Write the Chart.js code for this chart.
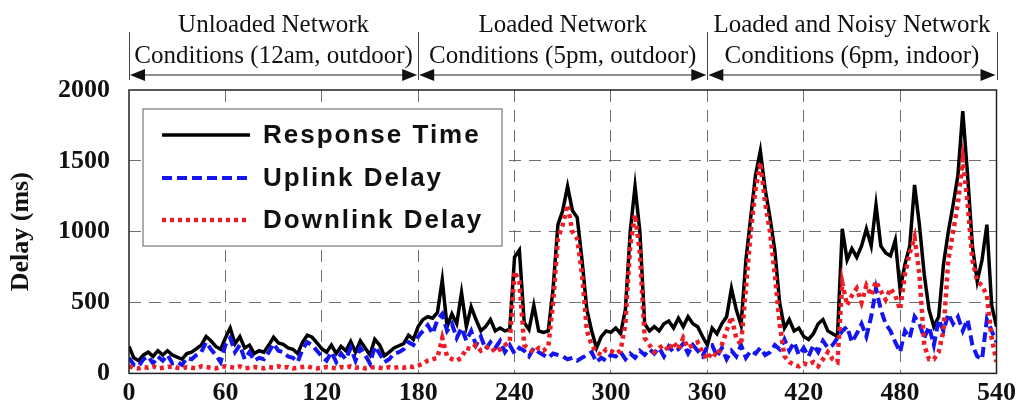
<!DOCTYPE html>
<html>
<head>
<meta charset="utf-8">
<script src="https://cdn.jsdelivr.net/npm/chart.js@4/dist/chart.umd.min.js"></script>
<style>
  body { margin: 0; background: #fff; }
  canvas { display: block; }
</style>
</head>
<body>
<canvas id="chart" width="1020" height="408"></canvas>
<script>
// one sample every 3 s, 0 .. 540 s
const sampleStep = 3;

const responseTime = [
	// 0 - 180 s
	190, 110, 90, 130, 150, 120, 160, 130, 160, 130,
	115, 100, 140, 150, 175, 200, 260, 230, 190, 170,
	250, 320, 210, 260, 180, 200, 140, 160, 150, 200,
	255, 215, 205, 180, 170, 140, 220, 270, 255, 215,
	175, 150, 200, 140, 190, 160, 225, 150, 230, 180,
	130, 240, 200, 125, 150, 180, 195, 210, 270, 240,
	330,
	// 183 - 360 s
	380, 400, 390, 430, 660, 330, 420, 350, 570, 330,
	470, 380, 300, 330, 380, 300, 320, 300, 310, 820,
	870, 360, 310, 480, 300, 290, 300, 600, 1050, 1150,
	1320, 1150, 1100, 800, 450, 300, 180, 260, 300, 290,
	320, 280, 450, 1000, 1320, 1000, 350, 300, 330, 300,
	350, 370, 320, 390, 330, 400, 350, 330, 260, 200,
	// 363 - 540 s
	320, 280, 350, 400, 600, 450, 340, 800, 1100, 1400,
	1570, 1300, 1100, 870, 500, 320, 380, 300, 320, 260,
	240, 280, 350, 380, 300, 280, 260, 1020, 800, 880,
	820, 900, 1020, 900, 1190, 900, 850, 830, 940, 590,
	770, 900, 1330, 1050, 700, 450, 330, 400, 770, 1000,
	1190, 1400, 1850, 1400, 900, 650, 800, 1050, 480, 330
];

const uplinkDelay = [
	110, 60, 50, 100, 120, 70, 120, 90, 130, 70,
	80, 60, 110, 100, 130, 150, 220, 170, 130, 80,
	200, 250, 150, 200, 100, 150, 90, 110, 100, 150,
	210, 160, 150, 120, 110, 80, 170, 220, 200, 160,
	120, 90, 150, 80, 140, 100, 180, 90, 180, 130,
	70, 190, 140, 80, 100, 140, 150, 170, 220, 200,
	260,
	300, 340, 280, 380, 420, 300, 350, 250, 320, 230,
	300, 200, 260, 170, 220, 180, 230, 150, 200, 140,
	180, 160, 120, 180, 150, 130, 110, 140, 130, 120,
	100, 110, 90, 110, 130, 150, 80, 110, 90, 130,
	120, 150, 100, 140, 110, 160, 130, 170, 140, 180,
	120, 190, 150, 170, 210, 140, 200, 160, 120, 190,
	200, 120, 180, 100, 160, 120, 200, 110, 160, 140,
	180, 130, 150, 200, 170, 240, 160, 220, 130, 180,
	120, 200, 150, 230, 180, 200, 250, 300, 330, 220,
	280, 350, 260, 400, 600, 450, 350, 300, 220, 150,
	300, 250, 400, 350, 250, 330, 200, 380, 300, 420,
	350, 400, 300, 380, 200, 120, 100, 380, 300, 220
];

const downlinkDelay = [
	50, 40, 35, 45, 40, 50, 35, 40, 45, 50,
	40, 35, 45, 40, 35, 50, 45, 40, 35, 45,
	50, 45, 40, 50, 35, 40, 45, 40, 35, 45,
	40, 50, 40, 45, 35, 40, 45, 50, 40, 35,
	40, 45, 40, 35, 45, 40, 50, 40, 45, 35,
	40, 45, 40, 35, 45, 40, 45, 40, 50, 45,
	55,
	70, 90, 100, 110, 250, 120, 100, 90, 110, 180,
	170, 200, 160, 180, 190, 150, 170, 200, 220, 720,
	650, 200, 170, 150, 180, 160, 190, 500, 950, 1050,
	1190, 1000, 950, 700, 300, 200, 150, 130, 170, 160,
	140, 160, 350, 900, 1120, 850, 250, 200, 150, 180,
	200, 160, 220, 170, 250, 180, 200, 220, 150, 100,
	150, 120, 200, 300, 400, 250, 200, 600, 1000, 1300,
	1490, 1200, 1000, 700, 350, 120, 80, 60, 50, 70,
	60, 80, 50, 100, 150, 100, 80, 640, 480, 550,
	600, 500, 620, 550, 650, 580, 520, 600, 550, 450,
	700, 850, 960, 700, 200, 100, 100, 150, 300, 800,
	1000, 1200, 1510, 1200, 800, 650, 620, 550, 250, 80
];

const xTicks = [0, 60, 120, 180, 240, 300, 360, 420, 480, 540];
const yTicks = [0, 500, 1000, 1500, 2000];

// network phases shown above the plot
const phaseBounds = [0, 180, 360, 540];
const phaseLabels = [
	["Unloaded Network", "Conditions (12am, outdoor)"],
	["Loaded Network", "Conditions (5pm, outdoor)"],
	["Loaded and Noisy Network", "Conditions (6pm, indoor)"]
];

const seriesNames = ["Response Time", "Uplink Delay", "Downlink Delay"];

const toPoints = (values) => values.map((v, i) => ({ x: i * sampleStep, y: v }));

const serif = '"Liberation Serif", "Times New Roman", serif';
const sans = '"Liberation Sans", Arial, sans-serif';

const styles = [
	{ color: "#000000", width: 3.5, dash: [] },
	{ color: "#1414f0", width: 4, dash: [10, 5] },
	{ color: "#ee1c24", width: 4.5, dash: [4, 4] }
];

const decorations = {
	id: "decorations",
	afterDraw(chart) {
		const ctx = chart.ctx;
		const area = chart.chartArea;
		const x = chart.scales.x;

		ctx.save();

		// frame round the plot
		ctx.strokeStyle = "#222";
		ctx.lineWidth = 1.5;
		ctx.setLineDash([]);
		ctx.strokeRect(area.left, area.top, area.right - area.left, area.bottom - area.top);

		// legend box
		const lx = 143, ly = 109, lw = 359, lh = 137;
		ctx.fillStyle = "#fff";
		ctx.fillRect(lx, ly, lw, lh);
		ctx.strokeStyle = "#777";
		ctx.lineWidth = 1.2;
		ctx.strokeRect(lx, ly, lw, lh);

		const rows = [135, 178, 220];
		ctx.font = "bold 26px " + sans;
		ctx.letterSpacing = "2px";
		ctx.textBaseline = "middle";
		ctx.textAlign = "left";
		seriesNames.forEach((name, i) => {
			const s = styles[i];
			ctx.strokeStyle = s.color;
			ctx.lineWidth = s.width;
			ctx.setLineDash(s.dash);
			ctx.beginPath();
			ctx.moveTo(162, rows[i]);
			ctx.lineTo(250, rows[i]);
			ctx.stroke();
			ctx.fillStyle = "#111";
			ctx.fillText(name, 263, rows[i] + 1);
		});
		ctx.letterSpacing = "0px";
		ctx.setLineDash([]);

		// phase annotations with double arrows
		const arrowY = 75;
		ctx.strokeStyle = "#444";
		ctx.fillStyle = "#111";
		ctx.lineWidth = 1;
		phaseBounds.forEach((b) => {
			const px = Math.round(x.getPixelForValue(b)) + 0.5;
			ctx.beginPath();
			ctx.moveTo(px, 32);
			ctx.lineTo(px, 80);
			ctx.stroke();
		});

		ctx.font = "25px " + serif;
		ctx.textAlign = "center";
		ctx.textBaseline = "middle";
		for (let i = 0; i < phaseLabels.length; i++) {
			const a = x.getPixelForValue(phaseBounds[i]);
			const b = x.getPixelForValue(phaseBounds[i + 1]);

			ctx.strokeStyle = "#222";
			ctx.lineWidth = 1.2;
			ctx.beginPath();
			ctx.moveTo(a + 4, arrowY);
			ctx.lineTo(b - 4, arrowY);
			ctx.stroke();

			ctx.beginPath();
			ctx.moveTo(a + 1, arrowY);
			ctx.lineTo(a + 16, arrowY - 6);
			ctx.lineTo(a + 16, arrowY + 6);
			ctx.closePath();
			ctx.fill();

			ctx.beginPath();
			ctx.moveTo(b - 1, arrowY);
			ctx.lineTo(b - 16, arrowY - 6);
			ctx.lineTo(b - 16, arrowY + 6);
			ctx.closePath();
			ctx.fill();

			ctx.fillStyle = "#111";
			ctx.fillText(phaseLabels[i][0], (a + b) / 2, 25);
			ctx.fillText(phaseLabels[i][1], (a + b) / 2, 56);
		}

		ctx.restore();
	}
};

// hide grid lines that would sit on the frame
const edgeColor = (ctx, last) => (ctx.index === 0 || ctx.index === last) ? "rgba(0,0,0,0)" : "#6e6e6e";

new Chart(document.getElementById("chart").getContext("2d"), {
	type: "line",
	data: {
		datasets: [responseTime, uplinkDelay, downlinkDelay].map((values, i) => ({
			label: seriesNames[i],
			data: toPoints(values),
			borderColor: styles[i].color,
			borderWidth: styles[i].width,
			borderDash: styles[i].dash,
			pointRadius: 0,
			tension: 0,
			fill: false,
			order: 3 - i
		}))
	},
	options: {
		responsive: false,
		animation: false,
		events: [],
		layout: {
			padding: { top: 90, right: 20, left: 0, bottom: 0 }
		},
		plugins: {
			legend: { display: false },
			tooltip: { enabled: false }
		},
		scales: {
			x: {
				type: "linear",
				min: xTicks[0],
				max: xTicks[xTicks.length - 1],
				afterFit: (scale) => { scale.height = 29; },
				afterBuildTicks: (scale) => { scale.ticks = xTicks.map((v) => ({ value: v })); },
				grid: {
					color: (ctx) => edgeColor(ctx, xTicks.length - 1),
					lineWidth: 1,
					drawTicks: false
				},
				border: { display: false, dash: [12, 8] },
				ticks: {
					padding: 4,
					color: "#111",
					callback: (v) => String(v),
					font: { family: serif, size: 26, weight: "bold" }
				}
			},
			y: {
				min: yTicks[0],
				max: yTicks[yTicks.length - 1],
				afterFit: (scale) => { scale.width = 129; },
				afterBuildTicks: (scale) => { scale.ticks = yTicks.map((v) => ({ value: v })); },
				grid: {
					color: (ctx) => edgeColor(ctx, yTicks.length - 1),
					lineWidth: 1,
					drawTicks: false
				},
				border: { display: false, dash: [12, 8] },
				title: {
					display: true,
					text: "Delay (ms)",
					color: "#111",
					font: { family: serif, size: 26, weight: "bold" },
					padding: { top: 6, bottom: 0 }
				},
				ticks: {
					padding: 19,
					color: "#111",
					callback: (v) => String(v),
					font: { family: serif, size: 26, weight: "bold" }
				}
			}
		}
	},
	plugins: [decorations]
});
</script>
</body>
</html>
